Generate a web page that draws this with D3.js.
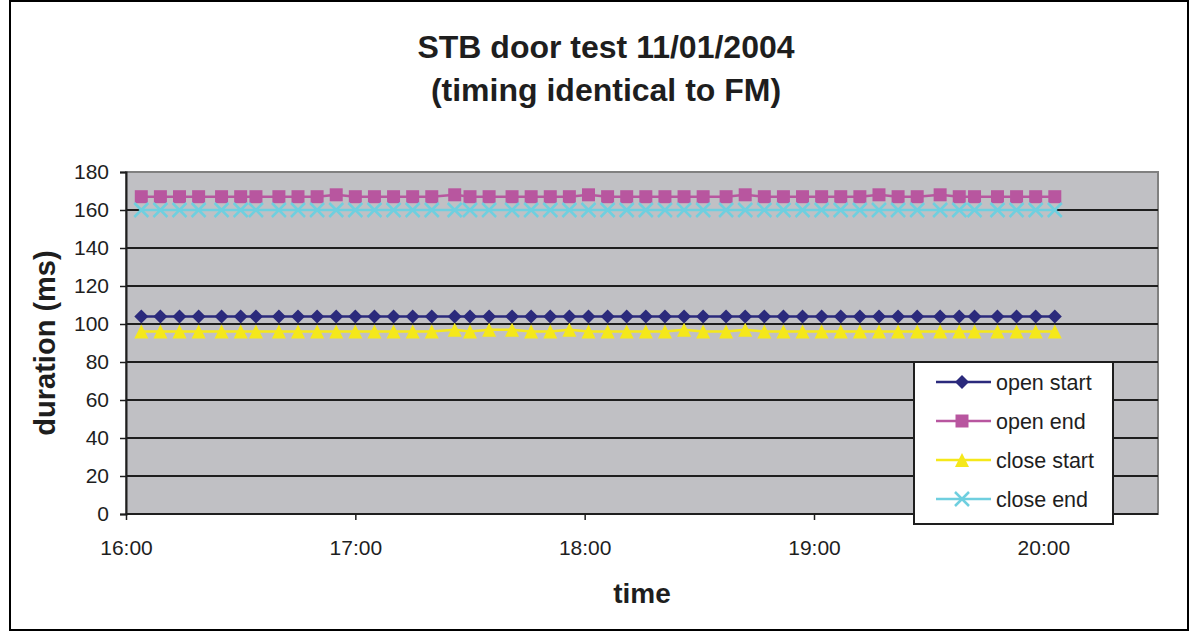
<!DOCTYPE html>
<html>
<head>
<meta charset="utf-8">
<script src="https://cdn.jsdelivr.net/npm/d3@7"></script>
<style>
  body { margin: 0; background: #fff; }
  svg { display: block; font-family: "Liberation Sans", Arial, sans-serif; }
</style>
</head>
<body>
<div id="chart"></div>
<script>
// sample times (11/01/2004)
var times = ["16:04", "16:09", "16:14", "16:19", "16:25", "16:30", "16:34", "16:40",
    "16:45", "16:50", "16:55", "17:00", "17:05", "17:10", "17:15", "17:20",
    "17:26", "17:30", "17:35", "17:41", "17:46", "17:51", "17:56", "18:01",
    "18:06", "18:11", "18:16", "18:21", "18:26", "18:31", "18:37", "18:42",
    "18:47", "18:52", "18:57", "19:02", "19:07", "19:12", "19:17", "19:22",
    "19:27", "19:33", "19:38", "19:42", "19:48", "19:53", "19:58", "20:03"];

var openStart = [104, 104, 104, 104, 104, 104, 104, 104, 104, 104, 104, 104,
    104, 104, 104, 104, 104, 104, 104, 104, 104, 104, 104, 104,
    104, 104, 104, 104, 104, 104, 104, 104, 104, 104, 104, 104,
    104, 104, 104, 104, 104, 104, 104, 104, 104, 104, 104, 104];

var openEnd = [167, 167, 167, 167, 167, 167, 167, 167, 167, 167, 168, 167,
    167, 167, 167, 167, 168, 167, 167, 167, 167, 167, 167, 168,
    167, 167, 167, 167, 167, 167, 167, 168, 167, 167, 167, 167,
    167, 167, 168, 167, 167, 168, 167, 167, 167, 167, 167, 167];

var closeStart = [96, 96, 96, 96, 96, 96, 96, 96, 96, 96, 96, 96,
    96, 96, 96, 96, 97, 96, 97, 97, 96, 96, 97, 96,
    96, 96, 96, 96, 97, 96, 96, 97, 96, 96, 96, 96,
    96, 96, 96, 96, 96, 96, 96, 96, 96, 96, 96, 96];

var closeEnd = [160, 160, 160, 160, 160, 160, 160, 160, 160, 160, 160, 160,
    160, 160, 160, 160, 160, 160, 160, 160, 160, 160, 160, 160,
    160, 160, 160, 160, 160, 160, 160, 160, 160, 160, 160, 160,
    160, 160, 160, 160, 160, 160, 160, 160, 160, 160, 160, 160];

var seriesNames = ["open start", "open end", "close start", "close end"];
var yTicks = [0, 20, 40, 60, 80, 100, 120, 140, 160, 180];
var xTickLabels = ["16:00", "17:00", "18:00", "19:00", "20:00"];

var chart = (function () {

    var width = 1196, height = 631;
    var plot = { left: 126, top: 172, right: 1158, bottom: 514 };

    var parse = d3.timeParse("%Y-%m-%d %H:%M");
    var day = "2004-01-11 ";

    var series = [
        { name: seriesNames[0], values: openStart, color: "#2b2a7c", marker: "diamond" },
        { name: seriesNames[1], values: openEnd, color: "#b8569f", marker: "square" },
        { name: seriesNames[2], values: closeStart, color: "#f5e81a", marker: "triangle" },
        { name: seriesNames[3], values: closeEnd, color: "#6fcfdf", marker: "cross" }
    ];

    var svg = d3.select("#chart").append("svg")
        .attr("width", width)
        .attr("height", height);

    // outer frame
    svg.append("rect")
        .attr("x", 10).attr("y", 1)
        .attr("width", 1178).attr("height", 629)
        .attr("fill", "#fff")
        .attr("stroke", "#000")
        .attr("stroke-width", 2);

    var x = d3.scaleTime()
        .domain([parse(day + "16:00"), parse(day + "20:30")])
        .range([plot.left, plot.right]);

    var y = d3.scaleLinear()
        .domain([0, 180])
        .range([plot.bottom, plot.top]);

    // plot area
    svg.append("rect")
        .attr("x", plot.left).attr("y", plot.top)
        .attr("width", plot.right - plot.left)
        .attr("height", plot.bottom - plot.top)
        .attr("fill", "#c0c0c4")
        .attr("stroke", "#808080")
        .attr("stroke-width", 2);

    // gridlines
    svg.append("g").selectAll("line")
        .data(yTicks.slice(1, -1))
        .enter().append("line")
        .attr("x1", plot.left).attr("x2", plot.right)
        .attr("y1", function (d) { return y(d); })
        .attr("y2", function (d) { return y(d); })
        .attr("stroke", "#1e1e1e")
        .attr("stroke-width", 2);

    var yAxis = svg.append("g")
        .attr("transform", "translate(" + plot.left + ",0)")
        .call(d3.axisLeft(y).tickValues(yTicks).tickSize(6).tickPadding(11));

    var hourTicks = xTickLabels.map(function (t) { return parse(day + t); });
    var xAxis = svg.append("g")
        .attr("transform", "translate(0," + plot.bottom + ")")
        .call(d3.axisBottom(x).tickValues(hourTicks).tickSize(6).tickPadding(20)
            .tickFormat(d3.timeFormat("%H:%M")));

    [yAxis, xAxis].forEach(function (a) {
        a.select(".domain").attr("stroke", "#1e1e1e").attr("stroke-width", 2);
        a.selectAll(".tick line").attr("stroke", "#1e1e1e").attr("stroke-width", 1.5);
        a.selectAll(".tick text")
            .attr("fill", "#1e1e1e")
            .style("font-size", "21px")
            .style("font-family", "'Liberation Sans', Arial, sans-serif");
    });
    xAxis.select(".domain").attr("d", "M" + plot.left + ",0H" + plot.right);

    var markerPath = function (type, s) {
        if (type == "diamond")
            return "M0," + (-s) + "L" + s + ",0L0," + s + "L" + (-s) + ",0Z";
        if (type == "square")
            return "M" + (-s + 0.5) + "," + (-s + 0.5) + "H" + (s - 0.5) + "V" + (s - 0.5) + "H" + (-s + 0.5) + "Z";
        if (type == "triangle")
            return "M0," + (-s) + "L" + (s) + "," + s + "L" + (-s) + "," + s + "Z";
        return "M" + (-s) + "," + (-s) + "L" + s + "," + s + "M" + s + "," + (-s) + "L" + (-s) + "," + s;
    };

    var line = d3.line()
        .x(function (d) { return x(d.t); })
        .y(function (d) { return y(d.v); });

    series.forEach(function (s) {
        var pts = s.values.map(function (v, i) { return { t: parse(day + times[i]), v: v }; });
        var g = svg.append("g");
        g.append("path")
            .datum(pts)
            .attr("d", line)
            .attr("fill", "none")
            .attr("stroke", s.color)
            .attr("stroke-width", 2.5);
        g.selectAll("path.marker")
            .data(pts)
            .enter().append("path")
            .attr("class", "marker")
            .attr("transform", function (d) { return "translate(" + x(d.t) + "," + y(d.v) + ")"; })
            .attr("d", markerPath(s.marker, 7))
            .attr("fill", s.marker == "cross" ? "none" : s.color)
            .attr("stroke", s.color)
            .attr("stroke-width", s.marker == "cross" ? 2.5 : 0);
    });

    // legend
    var legend = svg.append("g").attr("transform", "translate(914,362)");
    legend.append("rect")
        .attr("width", 199).attr("height", 162)
        .attr("fill", "#fff")
        .attr("stroke", "#1e1e1e")
        .attr("stroke-width", 2);
    var item = legend.selectAll(".item")
        .data(series)
        .enter().append("g")
        .attr("class", "item")
        .attr("transform", function (d, i) { return "translate(0," + (20 + i * 39) + ")"; });
    item.append("line")
        .attr("x1", 22).attr("x2", 77)
        .attr("stroke", function (d) { return d.color; })
        .attr("stroke-width", 2.5);
    item.append("path")
        .attr("transform", "translate(48,0)")
        .attr("d", function (d) { return markerPath(d.marker, 7); })
        .attr("fill", function (d) { return d.marker == "cross" ? "none" : d.color; })
        .attr("stroke", function (d) { return d.color; })
        .attr("stroke-width", function (d) { return d.marker == "cross" ? 2.5 : 0; });
    item.append("text")
        .attr("x", 82).attr("y", 8)
        .attr("fill", "#1e1e1e")
        .style("font-size", "21.5px")
        .text(function (d) { return d.name; });

    // titles
    var title = svg.append("text")
        .attr("text-anchor", "middle")
        .attr("fill", "#1e1e1e")
        .style("font-size", "32px")
        .style("font-weight", "bold");
    title.append("tspan").attr("x", 606).attr("y", 58).text("STB door test 11/01/2004");
    title.append("tspan").attr("x", 606).attr("y", 101).text("(timing identical to FM)");

    svg.append("text")
        .attr("transform", "translate(55,343) rotate(-90)")
        .attr("text-anchor", "middle")
        .attr("fill", "#1e1e1e")
        .style("font-size", "29px")
        .style("font-weight", "bold")
        .text("duration (ms)");

    svg.append("text")
        .attr("x", 642).attr("y", 603)
        .attr("text-anchor", "middle")
        .attr("fill", "#1e1e1e")
        .style("font-size", "28px")
        .style("font-weight", "bold")
        .text("time");

    return { svg: svg };
})();
</script>
</body>
</html>
